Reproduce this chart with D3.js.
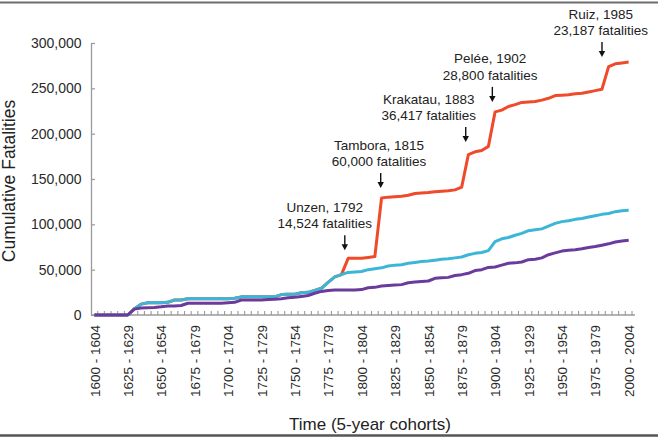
<!DOCTYPE html>
<html>
<head>
<meta charset="utf-8">
<script src="https://d3js.org/d3.v7.min.js"></script>
<style>
  body { margin: 0; background: #fff; }
  svg { display: block; font-family: "Liberation Sans", Arial, Helvetica, sans-serif; }
</style>
</head>
<body>
<div id="chart"></div>
<script>
// 5-year cohorts, 1600-1604 ... 2000-2004
var cohortStarts = d3.range(1600, 2001, 5);
var cohorts = cohortStarts.map(function(s) { return s + " - " + (s + 4); });

var xTickLabels = ["1600 - 1604", "1625 - 1629", "1650 - 1654", "1675 - 1679", "1700 - 1704",
  "1725 - 1729", "1750 - 1754", "1775 - 1779", "1800 - 1804", "1825 - 1829", "1850 - 1854",
  "1875 - 1879", "1900 - 1904", "1925 - 1929", "1950 - 1954", "1975 - 1979", "2000 - 2004"];
var yTickValues = [0, 50000, 100000, 150000, 200000, 250000, 300000];

// cumulative fatalities, one value per cohort
var allEvents = [
  0, 0, 0, 0, 0,
  0, 7000, 12000, 13500, 13500,
  13500, 14000, 16500, 16500, 18000,
  18000, 18000, 18000, 18000, 18000,
  18000, 18500, 20000, 20000, 20000,
  20000, 20000, 20000, 22500, 22800,
  23000, 24500, 25000, 27000, 29500,
  36000, 42000, 44500, 62500, 62500,
  62500, 63500, 64500, 129000, 130000,
  130500, 131000, 132000, 134000, 134500,
  135000, 136000, 136500, 137000, 138000,
  141000, 177000, 180000, 181500, 186000,
  224000, 226000, 230000, 232000, 234500,
  235000, 235500, 237000, 239000, 242000,
  242500, 243000, 244000, 244500, 246000,
  247500, 249000, 274000, 277000, 278000,
  279000
];
var withoutLargest = [
  0, 0, 0, 0, 0,
  0, 7000, 12000, 13500, 13500,
  13500, 14000, 16500, 16500, 18000,
  18000, 18000, 18000, 18000, 18000,
  18000, 18500, 20000, 20000, 20000,
  20000, 20000, 20000, 22500, 22800,
  23000, 24500, 25000, 27000, 29500,
  36000, 42000, 44500, 47000, 47500,
  48000, 50000, 51000, 52000, 54000,
  55000, 55500, 57000, 58000, 59000,
  59500, 60500, 61500, 62000, 63000,
  64000, 66500, 68000, 69000, 71000,
  81000, 84000, 85500, 88000, 90000,
  93000, 94000, 95000, 98000, 101000,
  103000, 104000, 105500, 106500, 108000,
  109500, 111000, 112000, 114000, 115000,
  115500
];
var lowerSeries = [
  0, 0, 0, 0, 0,
  0, 6500, 7700, 8000, 8300,
  9000, 10000, 10000, 10500, 13000,
  13000, 13000, 13000, 13000, 13000,
  13500, 14000, 16500, 16500, 16500,
  16500, 17000, 17500, 18000, 19000,
  19500, 20500, 21500, 24000, 26000,
  27000, 27500, 27500, 27500, 27500,
  28000, 30000, 30500, 32000, 32500,
  33000, 33500, 35500, 36500, 37000,
  37500, 40500, 41000, 41500, 43500,
  44500, 46000, 49000, 50000, 52500,
  53000, 55000, 57000, 57500, 58500,
  61000, 61500, 63000, 66500, 68500,
  70500, 71500, 72000, 73000, 74500,
  75500, 77000, 78500, 80500, 81500,
  82500
];

// annotated eruptions
var eventNames = ["Unzen, 1792", "Tambora, 1815", "Krakatau, 1883", "Pelée, 1902", "Ruiz, 1985"];
var eventFatalities = ["14,524 fatalities", "60,000 fatalities", "36,417 fatalities", "28,800 fatalities", "23,187 fatalities"];
var eventCohorts = ["1790 - 1794", "1815 - 1819", "1880 - 1884", "1900 - 1904", "1985 - 1989"];

(function volcanochart() {
  var width = 658,
    height = 445;

  var left = 91,
    top = 43,
    bottom = 315;

  var x = d3.scaleBand()
    .domain(cohorts)
    .range([left, 632]);
  var y = d3.scaleLinear()
    .domain([0, 300000])
    .range([bottom, top]);

  var cx = function(c) { return x(c) + x.bandwidth() / 2; };

  var svg = d3.select("#chart").append("svg")
    .attr("width", width)
    .attr("height", height);

  // frame lines
  svg.append("line")
    .attr("x1", 0).attr("x2", width)
    .attr("y1", 2.5).attr("y2", 2.5)
    .attr("stroke", "#6d6d6d")
    .attr("stroke-width", 2);
  svg.append("line")
    .attr("x1", 0).attr("x2", width)
    .attr("y1", 435.5).attr("y2", 435.5)
    .attr("stroke", "#555")
    .attr("stroke-width", 2.5);

  // y axis
  var yAxis = svg.append("g")
    .attr("transform", "translate(" + left + ",0)")
    .call(d3.axisLeft(y)
      .tickValues(yTickValues)
      .tickSizeInner(-4)
      .tickSizeOuter(0)
      .tickPadding(9.5)
      .tickFormat(d3.format(",")));
  yAxis.select(".domain").attr("stroke", "#9a9a9a").attr("stroke-width", 1.3);
  yAxis.selectAll(".tick line").attr("stroke", "#9a9a9a").attr("stroke-width", 1.2);
  yAxis.selectAll("text")
    .attr("fill", "#2a2a2a")
    .style("font-size", "14px")
    .style("font-family", "'Liberation Sans', Arial, sans-serif");

  // x axis
  var xAxis = svg.append("g")
    .attr("transform", "translate(0," + bottom + ")")
    .call(d3.axisBottom(x)
      .tickValues(xTickLabels)
      .tickSize(0)
      .tickPadding(0));
  xAxis.select(".domain").remove();
  xAxis.selectAll("text")
    .attr("transform", "rotate(-90)")
    .attr("x", -10)
    .attr("y", 0.5)
    .attr("dy", "0.35em")
    .style("text-anchor", "end")
    .attr("fill", "#2a2a2a")
    .style("font-size", "13.5px")
    .style("font-family", "'Liberation Sans', Arial, sans-serif");

  svg.append("line")
    .attr("x1", left).attr("x2", 635)
    .attr("y1", bottom).attr("y2", bottom)
    .attr("stroke", "#9a9a9a")
    .attr("stroke-width", 1.3);

  svg.append("g")
    .selectAll("line")
    .data(cohorts.slice(1).concat(["end"]))
    .enter()
    .append("line")
    .attr("x1", function(d) { return d === "end" ? x.range()[1] : x(d); })
    .attr("x2", function(d) { return d === "end" ? x.range()[1] : x(d); })
    .attr("y1", bottom)
    .attr("y2", bottom - 4)
    .attr("stroke", "#9a9a9a")
    .attr("stroke-width", 1.1);

  // lines
  var line = d3.line()
    .x(function(d, i) { return cx(cohorts[i]); })
    .y(function(d) { return y(d); });

  var series = [
    { values: allEvents, color: "#ef4a2a" },
    { values: withoutLargest, color: "#3cb6d6" },
    { values: lowerSeries, color: "#6a3b9c" }
  ];

  svg.append("g")
    .selectAll("path")
    .data(series)
    .enter()
    .append("path")
    .attr("d", function(d) { return line(d.values); })
    .attr("fill", "none")
    .attr("stroke", function(d) { return d.color; })
    .attr("stroke-width", 3)
    .attr("stroke-linejoin", "round");

  // annotations
  var arrowNudge = [0, 2.5, 0.7, 0.6, -3.3];
  var textShift = [-20, -1.7, -37, -2.2, -1.2];
  var tipGap = [8, 10, 12.5, 10, 9.5];

  eventNames.forEach(function(name, k) {
    var c = eventCohorts[k];
    var ci = cohorts.indexOf(c);
    var ax = x(c) + arrowNudge[k];
    var tip = y(allEvents[ci]) - tipGap[k];
    var topY = tip - 15;
    var a = svg.append("g").attr("class", "annotation");

    a.append("line")
      .attr("x1", ax).attr("x2", ax)
      .attr("y1", topY).attr("y2", tip - 5)
      .attr("stroke", "#111")
      .attr("stroke-width", 1.4);
    a.append("path")
      .attr("d", "M" + (ax - 3.2) + "," + (tip - 6) + "L" + (ax + 3.2) + "," + (tip - 6) + "L" + ax + "," + tip + "Z")
      .attr("fill", "#111");

    a.append("text")
      .text(name)
      .attr("x", ax + textShift[k])
      .attr("y", topY - 7 - 16.5)
      .attr("text-anchor", "middle")
      .attr("fill", "#222")
      .style("font-size", "13.5px");
    a.append("text")
      .text(eventFatalities[k])
      .attr("x", ax + textShift[k])
      .attr("y", topY - 7)
      .attr("text-anchor", "middle")
      .attr("fill", "#222")
      .style("font-size", "13.5px");
  });

  // axis titles
  svg.append("text")
    .text("Cumulative Fatalities")
    .attr("transform", "translate(15,181) rotate(-90)")
    .attr("text-anchor", "middle")
    .attr("fill", "#222")
    .style("font-size", "17.5px");

  svg.append("text")
    .text("Time (5-year cohorts)")
    .attr("x", 370)
    .attr("y", 429.5)
    .attr("text-anchor", "middle")
    .attr("fill", "#222")
    .style("font-size", "17px");
})();
</script>
</body>
</html>
